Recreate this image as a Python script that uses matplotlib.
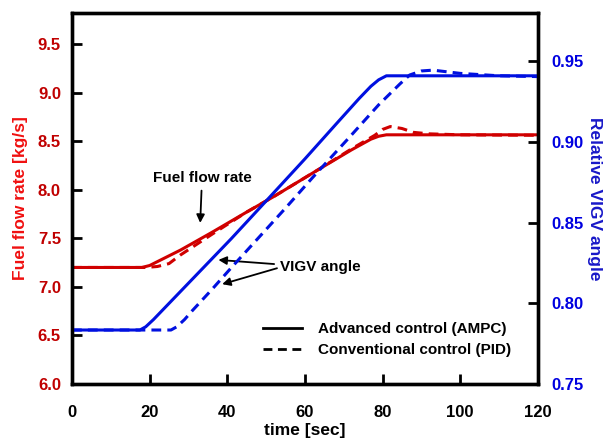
import matplotlib
matplotlib.use('Agg')
import matplotlib.pyplot as plt
from matplotlib.lines import Line2D

plt.rcParams['font.family'] = 'Liberation Sans'
plt.rcParams['font.weight'] = 'bold'
plt.rcParams['axes.labelweight'] = 'bold'

# fuel flow rate [kg/s], advanced control (AMPC)
t_fuel_ampc = [0, 18, 20, 23, 28, 36, 45, 52, 64, 72, 77, 79, 81, 120]
fuel_ampc = [7.2, 7.2, 7.22, 7.28, 7.38, 7.56, 7.77, 7.93, 8.22, 8.41, 8.52, 8.55, 8.565, 8.565]

# fuel flow rate [kg/s], conventional control (PID)
t_fuel_pid = [0, 19, 22, 25, 28, 36, 45, 52, 64, 72, 78, 80, 82, 85, 88, 92, 100, 120]
fuel_pid = [7.2, 7.2, 7.21, 7.24, 7.33, 7.54, 7.77, 7.93, 8.22, 8.42, 8.56, 8.62, 8.65,
            8.63, 8.59, 8.575, 8.565, 8.56]

# relative VIGV angle, AMPC
t_vigv_ampc = [0, 17.5, 19, 21, 23, 32, 41, 51, 60, 68, 74, 77, 79, 81, 120]
vigv_ampc = [0.7835, 0.7835, 0.7855, 0.790, 0.795, 0.8175, 0.840, 0.866, 0.8895, 0.911,
             0.927, 0.9345, 0.9385, 0.941, 0.941]

# relative VIGV angle, PID
t_vigv_pid = [0, 25.5, 27, 29, 31, 36, 41, 55, 62, 71.5, 79, 84.5, 87, 90, 93, 100, 110, 120]
vigv_pid = [0.7835, 0.7835, 0.7855, 0.790, 0.7955, 0.8085, 0.822, 0.859, 0.878, 0.903,
            0.923, 0.936, 0.9415, 0.944, 0.9445, 0.9425, 0.941, 0.9405]

left_ticks = [6.0, 6.5, 7.0, 7.5, 8.0, 8.5, 9.0, 9.5]
right_ticks = [0.75, 0.80, 0.85, 0.90, 0.95]
x_ticks = [0, 20, 40, 60, 80, 100, 120]

red = '#d00000'
blue = '#0010e0'
dash = (0, (3.2, 2.0))

fig = plt.figure(figsize=(6.07, 4.43), dpi=100)
ax = fig.add_axes([0.1186, 0.133, 0.7674, 0.838])
ax2 = ax.twinx()

ax.plot(t_fuel_ampc, fuel_ampc, color=red, lw=2.2)
ax.plot(t_fuel_pid, fuel_pid, color=red, lw=2.2, ls=dash)
ax2.plot(t_vigv_ampc, vigv_ampc, color=blue, lw=2.2)
ax2.plot(t_vigv_pid, vigv_pid, color=blue, lw=2.2, ls=dash)

ax.set_xlim(0, 120)
ax.set_ylim(6.0, 9.82)
ax2.set_ylim(0.75, 0.98)
ax.set_xticks(x_ticks)
ax.set_yticks(left_ticks)
ax.set_yticklabels(['%.1f' % v for v in left_ticks])
ax2.set_yticks(right_ticks)
ax2.set_yticklabels(['%.2f' % v for v in right_ticks])

for a in (ax, ax2):
    for s in a.spines.values():
        s.set_linewidth(2.4)
ax.tick_params(axis='x', direction='in', length=7, width=2, pad=15, labelsize=12)
ax.tick_params(axis='y', direction='in', length=7, width=2, pad=8, labelsize=12,
               labelcolor='#c00000')
ax2.tick_params(axis='y', direction='in', length=7, width=2, pad=10, labelsize=12,
                labelcolor='#0000e0')

ax.set_xlabel('time [sec]', fontsize=12.5, labelpad=2)
ax.set_ylabel('Fuel flow rate [kg/s]', fontsize=12.5, color='#f01010', labelpad=7)
ax2.set_ylabel('Relative VIGV angle', fontsize=12.5, color='#1818c8', rotation=270,
               labelpad=13)

arrow = dict(arrowstyle='-|>', color='k', lw=1.3, mutation_scale=12)
ax.annotate('Fuel flow rate', xy=(33, 7.63), xytext=(33.5, 8.12), fontsize=11,
            ha='center', va='center', arrowprops=arrow)
ax.annotate('VIGV angle', xy=(37, 7.28), xytext=(53.5, 7.2), fontsize=11,
            ha='left', va='center', arrowprops=arrow)
ax.annotate('', xy=(38, 7.02), xytext=(53.5, 7.2), arrowprops=arrow)

handles = [Line2D([], [], color='k', lw=2.0),
           Line2D([], [], color='k', lw=2.0, ls=dash)]
ax.legend(handles, ['Advanced control (AMPC)', 'Conventional control (PID)'],
          loc='lower left', bbox_to_anchor=(0.38, 0.035), frameon=False,
          fontsize=11, handlelength=2.6, labelspacing=0.45, handletextpad=1.0)

fig.savefig('out.png', dpi=100)
